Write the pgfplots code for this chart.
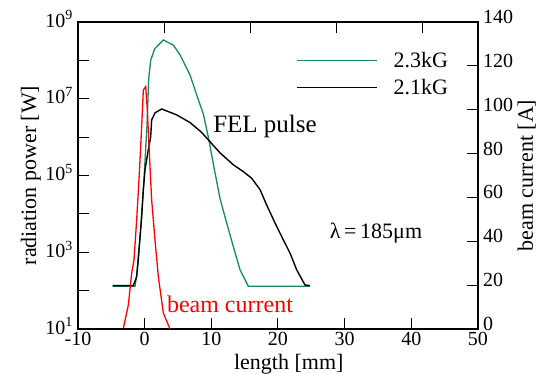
\documentclass[border=0pt]{standalone}
\usepackage{fontspec}
\setmainfont{LiberationSerif}[Extension=.ttf, UprightFont=*-Regular, BoldFont=*-Bold, ItalicFont=*-Italic]
\usepackage{pgfplots}
\pgfplotsset{compat=1.18}
\definecolor{fgreen}{RGB}{20,140,95}
\newcommand\tickf{\rmfamily\fontsize{20}{22}\selectfont}
\newcommand\labf{\rmfamily\fontsize{22}{24}\selectfont}
\newcommand\bigtf{\rmfamily\fontsize{24}{26}\selectfont}
\begin{document}
\begin{tikzpicture}
\useasboundingbox (-78pt,-45pt) rectangle (469pt,329pt);
\begin{axis}[
  at={(0pt,0pt)}, anchor=south west,
  scale only axis, width=400pt, height=307pt,
  xmin=-10, xmax=50, ymode=log, ymin=1e1, ymax=1e9,
  xtick={-10,0,10,20,30,40,50}, xtick pos=bottom, ytick pos=left,
  ytick={1e1,1e3,1e5,1e7,1e9},
  yticklabels={10\textsuperscript{1},10\textsuperscript{3},10\textsuperscript{5},10\textsuperscript{7},10\textsuperscript{9}},
  minor ytick={1e2,1e4,1e6,1e8},
  tick align=inside,
  major tick length=11pt, minor tick length=11pt,
  every tick/.style={black, line width=1pt},
  axis line style={line width=1.2pt},
  tick label style={font=\tickf},
  yticklabel style={inner sep=1pt, xshift=-4pt, yshift=3pt},
  /pgf/number format/assume math mode=true,
  label style={font=\labf},
  xlabel={length [mm]}, ylabel={radiation power [W]},
  xlabel style={at={(axis description cs:0.527,0)}, anchor=base, yshift=-40.5pt, inner sep=0pt},
  xticklabel style={inner sep=0pt, yshift=-3pt},
  legend style={draw=none, fill=none, font=\labf, at={(0.545,0.905)}, anchor=north west,
    row sep=8pt, inner sep=0pt, nodes={inner sep=1pt}},
  legend cell align=left,
  legend image code/.code={\draw[#1] (0pt,0pt) -- (80pt,0pt); \path (95pt,0pt);},
]
\addplot[fgreen, line width=1.3pt] coordinates {
(-4.8,1.3e2) (-1.45,1.3e2) (-1.2,2.5e2) (-0.6,4e3) (-0.1,8e4) (0.35,2e6) (0.6,3.2e7)
(0.9,1e8) (1.5,2e8) (2.8,3.4e8) (4.3,2.5e8) (5.3,1.4e8) (6.8,4.2e7) (7.8,1.26e7)
(8.8,4e6) (9.55,1e6) (10.3,2e5) (11.3,2.5e4) (12.3,5.8e3) (13.3,1.4e3) (14.3,3.5e2)
(15.55,1.3e2) (24.8,1.3e2)};
\addlegendentry{2.3kG}
\addplot[black, line width=1.4pt] coordinates {
(-4.8,1.35e2) (-1.7,1.35e2) (-1.2,2.3e2) (-0.96,6.3e2) (-0.45,8.5e3) (-0.2,4.2e4)
(0.05,1.4e5) (0.55,4.7e5) (0.9,1.0e6) (1.05,2.8e6) (1.55,4.3e6) (2.56,5.4e6)
(4.8,3.8e6) (6.8,2.4e6) (8.5,1.35e6) (9.55,8.5e5) (11.3,3.9e5) (13.3,1.9e5)
(14.8,1.26e5) (16.05,8.5e4) (17.3,4.3e4) (18.3,1.7e4) (19.55,5.8e3) (20.8,2.1e3)
(21.8,9.5e2) (22.8,3.5e2) (24.05,1.4e2) (24.8,1.35e2)};
\addlegendentry{2.1kG}
\node[font=\rmfamily\fontsize{25}{27}\selectfont] at (axis cs:18.05,1.86e6) {FEL pulse};
\node[font=\labf] at (axis cs:34.7,3.2e3) {λ\,=\,185μm};
\node[font=\bigtf, text=red] at (axis cs:12.8,43) {beam current};
\end{axis}
\begin{axis}[
  at={(0pt,0pt)}, anchor=south west,
  scale only axis, width=400pt, height=307pt,
  xmin=-10, xmax=50, ymin=0, ymax=140,
  axis x line=none, axis y line*=right,
  ytick={0,20,...,140}, tick align=inside,
  major tick length=11pt,
  every tick/.style={black, line width=1pt},
  axis line style={line width=1.2pt},
  tick label style={font=\tickf},
  yticklabel style={inner sep=1pt, xshift=4pt, yshift=5pt},
  /pgf/number format/assume math mode=true,
  label style={font=\labf},
  ylabel={beam current [A]},
]
\addplot[red, line width=1.3pt] coordinates {
(-3.2,0.3) (-2.45,10.9) (-1.95,25.4) (-1.6,31.5) (-1.2,49.7) (-0.8,71.0) (-0.45,92.3)
(-0.2,109) (0.15,110.5) (0.4,99.9) (0.7,80.3) (1.05,58.8) (1.55,40.6) (2.05,23.9)
(2.8,7.3) (3.8,0)};
\end{axis}
\begin{axis}[
  at={(0pt,0pt)}, anchor=south west,
  scale only axis, width=400pt, height=307pt,
  xmin=-10, xmax=50, ymin=0, ymax=1,
  axis y line=none, axis x line*=top,
  xtick={3.04,15.94,28.83,41.72}, xticklabels={}, tick align=inside,
  major tick length=11pt,
  every tick/.style={black, line width=1pt},
  axis line style={line width=1.2pt},
]
\end{axis}
\end{tikzpicture}
\end{document}
